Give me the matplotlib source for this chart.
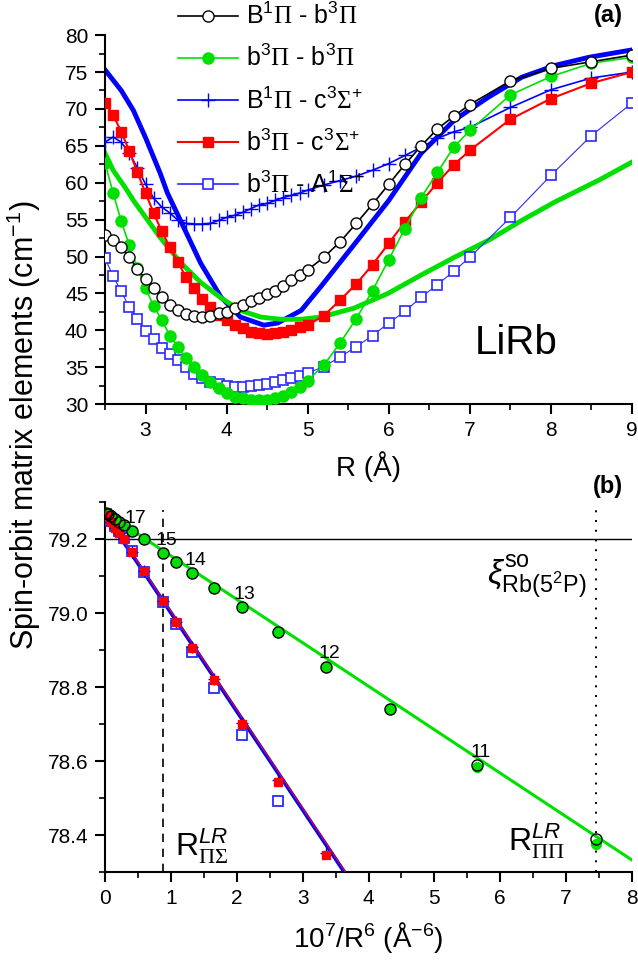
import matplotlib
matplotlib.use("Agg")
import matplotlib.pyplot as plt
from matplotlib.lines import Line2D
from matplotlib.ticker import MultipleLocator, FormatStrFormatter
import numpy as np

plt.rcParams['font.family'] = ['Liberation Sans', 'DejaVu Sans']
plt.rcParams['mathtext.fontset'] = 'custom'
plt.rcParams['mathtext.rm'] = 'Liberation Serif'
plt.rcParams['mathtext.sf'] = 'Liberation Sans'
plt.rcParams['mathtext.it'] = 'Liberation Sans:italic'

# ---- panel (a): spin-orbit matrix elements vs R ----
r_pts = [2.5, 2.6, 2.7, 2.8, 2.9, 3.0, 3.1, 3.2, 3.3, 3.4, 3.5, 3.6, 3.7, 3.8, 3.9,
         4.0, 4.1, 4.2, 4.3, 4.4, 4.5, 4.6, 4.7, 4.8, 4.9, 5.0,
         5.2, 5.4, 5.6, 5.8, 6.0, 6.2, 6.4, 6.6, 6.8, 7.0, 7.5, 8.0, 8.5, 9.0]
B1Pi_b3Pi = [52.9, 52.2, 51.3, 49.9, 48.3, 46.9, 45.7, 44.5, 43.4, 42.7, 42.2, 41.9, 41.8, 41.9, 42.3,
             42.5, 43.0, 43.4, 44.0, 44.4, 44.9, 45.4, 46.0, 46.8, 47.5, 48.2,
             49.9, 52.0, 54.5, 57.1, 59.8, 62.5, 65.0, 67.3, 69.0, 70.6, 73.8, 75.5, 76.4, 77.3]
b3Pi_b3Pi = [62.7, 58.6, 54.8, 51.5, 48.4, 45.7, 43.3, 41.4, 39.3, 37.7, 36.2, 35.0, 33.9, 33.0, 32.2,
             31.5, 31.0, 30.8, 30.5, 30.5, 30.5, 30.8, 31.1, 31.6, 32.3, 33.2,
             35.3, 38.3, 41.6, 45.4, 49.6, 53.8, 58.0, 61.4, 64.8, 67.1, 71.9, 74.4, 76.2, 77.0]
B1Pi_c3Sig = [65.5, 66.2, 65.5, 64.0, 62.0, 59.8, 57.9, 56.7, 55.9, 54.9, 54.5, 54.4, 54.4, 54.5, 54.9,
              55.3, 55.6, 56.0, 56.5, 57.0, 57.2, 57.6, 58.0, 58.3, 58.6, 59.0,
              59.7, 60.3, 60.9, 61.7, 62.6, 63.7, 64.8, 66.0, 66.9, 67.5, 70.2, 72.6, 74.2, 75.0]
b3Pi_c3Sig = [70.8, 69.2, 66.9, 64.3, 61.4, 58.6, 55.9, 53.4, 51.3, 49.2, 47.2, 45.7, 44.3, 43.1, 42.1,
              41.4, 40.7, 40.3, 39.8, 39.6, 39.5, 39.6, 39.8, 40.0, 40.4, 40.7,
              42.0, 44.1, 46.3, 48.9, 51.8, 54.7, 57.4, 60.0, 62.4, 64.4, 68.6, 71.4, 73.5, 75.0]
b3Pi_A1Sig = [49.8, 47.3, 45.3, 43.1, 41.6, 39.9, 38.8, 37.6, 36.8, 36.0, 35.1, 34.1, 33.5, 33.0, 32.7,
              32.4, 32.3, 32.3, 32.4, 32.6, 32.7, 33.0, 33.3, 33.5, 33.8, 34.2,
              35.1, 36.4, 37.8, 39.3, 41.0, 42.6, 44.5, 46.2, 48.0, 49.9, 55.3, 61.0, 66.4, 70.8]

# smooth (thick) curves
r_blue_thick = [2.5, 2.7, 2.85, 3.0, 3.18, 3.27, 3.43, 3.68, 3.93, 4.17, 4.46, 4.63, 4.92, 5.16,
                5.6, 6.0, 6.4, 6.81, 7.23, 7.64, 8.05, 8.47, 9.0]
v_blue_thick = [75.3, 72.5, 69.8, 66.1, 61.3, 58.6, 54.9, 49.1, 44.5, 41.8, 40.7, 41.0, 42.7, 45.9,
                52.0, 57.6, 64.0, 68.5, 71.6, 74.3, 75.9, 77.0, 78.0]
r_green_thick = [2.5, 2.6, 2.77, 2.85, 3.18, 3.43, 3.68, 3.93, 4.17, 4.42, 4.67, 4.92, 5.16,
                 5.57, 5.99, 6.4, 6.81, 7.23, 7.64, 8.05, 8.6, 9.0]
v_green_thick = [64.0, 61.7, 59.0, 57.6, 52.6, 49.2, 46.5, 44.4, 42.7, 41.8, 41.5, 41.5, 41.8,
                 43.0, 45.0, 47.5, 49.9, 52.2, 54.9, 57.4, 60.4, 62.8]

# ---- panel (b): long-range behaviour vs 10^7/R^6 ----
x_pp = [0.014, 0.041, 0.088, 0.156, 0.213, 0.294, 0.414, 0.596, 0.878, 1.076, 1.328, 1.652,
        2.072, 2.621, 3.349, 4.323, 5.645, 7.45]
pp_green = [79.271, 79.268, 79.263, 79.255, 79.248, 79.240, 79.222, 79.200, 79.162, 79.138,
            79.108, 79.067, 79.016, 78.948, 78.855, 78.741, 78.584, 78.375]
pp_black = [79.271, 79.268, 79.263, 79.255, 79.248, 79.240, 79.222, 79.200, 79.162, 79.138,
            79.108, 79.067, 79.016, 78.948, 78.855, 78.741, 78.589, 78.389]
x_ps = x_pp[:15]
ps_red = [79.267, 79.260, 79.247, 79.232, 79.218, 79.200, 79.165, 79.113, 79.032, 78.975,
          78.907, 78.820, 78.700, 78.543, 78.345]
ps_plus = [79.267, 79.260, 79.247, 79.232, 79.218, 79.200, 79.165, 79.113, 79.032, 78.975,
           78.909, 78.822, 78.703, 78.550, 78.352]
ps_open = [79.268, 79.262, 79.250, 79.236, 79.222, 79.203, 79.168, 79.111, 79.030, 78.972,
           78.896, 78.798, 78.671, 78.492]
R_labels = ['17', '15', '14', '13', '12', '11']
R_label_x = [0.414, 0.878, 1.328, 2.072, 3.349, 5.645]
R_label_y = [79.222, 79.162, 79.108, 79.016, 78.855, 78.589]
fit_pp = (79.273, -0.1176)
fit_ps_blue = (79.268, -0.2665)
fit_ps_red = (79.271, -0.2662)
x_R_PiSig = 0.878
x_R_PiPi = 7.45
xi_so = 79.2

GREEN = '#00e000'
BLUE = '#0000ff'
LBLUE = '#2a2aff'
RED = '#ff0000'

fig = plt.figure(figsize=(6.38, 9.6), dpi=100)
ax1 = fig.add_axes([0.1646, 0.579, 0.826, 0.3844])
ax2 = fig.add_axes([0.1646, 0.0917, 0.826, 0.385])

# panel (a)
ax1.plot(r_blue_thick, v_blue_thick, color=BLUE, lw=3.5, zorder=2)
ax1.plot(r_green_thick, v_green_thick, color=GREEN, lw=3.5, zorder=2)
ax1.plot(r_pts, b3Pi_A1Sig, color=LBLUE, lw=0.8, marker='s', ms=7, mfc='white',
         mec=LBLUE, mew=1.2, zorder=3)
ax1.plot(r_pts, B1Pi_c3Sig, color=BLUE, lw=1.2, marker='+', ms=10, mew=1.0, zorder=3)
ax1.plot(r_pts, b3Pi_c3Sig, color=RED, lw=1.5, marker='s', ms=7.5, mec=RED, zorder=4)
ax1.plot(r_pts, b3Pi_b3Pi, color=GREEN, lw=1.2, marker='o', ms=8, mec=GREEN, zorder=4)
ax1.plot(r_pts, B1Pi_b3Pi, color='k', lw=1.2, marker='o', ms=8, mfc='white', mec='k',
         mew=1.0, zorder=5)

ax1.set_xlim(2.5, 9)
ax1.set_ylim(30, 80)
ax1.xaxis.set_major_locator(MultipleLocator(1))
ax1.xaxis.set_minor_locator(MultipleLocator(0.5))
ax1.yaxis.set_major_locator(MultipleLocator(5))
ax1.yaxis.set_minor_locator(MultipleLocator(2.5))
ax1.set_xlabel('R (Å)', fontsize=20, labelpad=8)
ax1.text(0.78, 0.165, 'LiRb', transform=ax1.transAxes, fontsize=29, ha='center', va='center')
fig.text(0.953, 0.984, '(a)', fontsize=17, fontweight='bold', ha='center', va='center')

handles = [
    Line2D([], [], color='k', lw=1.2, marker='o', ms=8, mfc='white', mec='k'),
    Line2D([], [], color=GREEN, lw=1.2, marker='o', ms=8, mec=GREEN),
    Line2D([], [], color=BLUE, lw=1.2, marker='+', ms=10, mew=1.0),
    Line2D([], [], color=RED, lw=1.5, marker='s', ms=7.5, mec=RED),
    Line2D([], [], color=LBLUE, lw=1.2, marker='s', ms=7, mfc='white', mec=LBLUE, mew=1.2),
]
labels = [
    r'B$^{\mathsf{1}}\Pi$ - b$^{\mathsf{3}}\Pi$',
    r'b$^{\mathsf{3}}\Pi$ - b$^{\mathsf{3}}\Pi$',
    r'B$^{\mathsf{1}}\Pi$ - c$^{\mathsf{3}}\Sigma^{\mathsf{+}}$',
    r'b$^{\mathsf{3}}\Pi$ - c$^{\mathsf{3}}\Sigma^{\mathsf{+}}$',
    r'b$^{\mathsf{3}}\Pi$ - A$^{\mathsf{1}}\Sigma^{\mathsf{+}}$',
]
fig.legend(handles, labels, loc='upper left', bbox_to_anchor=(178 / 638, 0.997),
           frameon=False, fontsize=18, handlelength=2.4, handletextpad=0.3,
           labelspacing=0.63, borderpad=0, borderaxespad=0, numpoints=1)

# panel (b)
xf = np.array([0, 8])
ax2.axhline(xi_so, color='k', lw=1.0, zorder=1)
ax2.axvline(x_R_PiSig, ymax=0.98, color='k', lw=1.2, ls=(0, (5, 4)), zorder=1)
ax2.axvline(x_R_PiPi, ymax=0.98, color='k', lw=1.4, ls=(0, (1, 4)), zorder=1)
ax2.plot(xf, fit_pp[0] + fit_pp[1] * xf, color=GREEN, lw=2.2, zorder=2)
ax2.plot(xf, fit_ps_blue[0] + fit_ps_blue[1] * xf, color=BLUE, lw=2.8, zorder=2)
ax2.plot(xf, fit_ps_red[0] + fit_ps_red[1] * xf, color=RED, lw=0.8, zorder=3)
ax2.plot(x_pp[:14], ps_open, ls='none', marker='s', ms=7, mfc='none', mec=LBLUE, mew=1.3, zorder=4)
ax2.plot(x_ps, ps_plus, ls='none', marker='+', ms=8, mec=BLUE, mew=1.0, zorder=4)
ax2.plot(x_ps, ps_red, ls='none', marker='s', ms=5.5, mfc=RED, mec=RED, zorder=5)
ax2.plot(x_pp, pp_green, ls='none', marker='o', ms=7, mfc=GREEN, mec=GREEN, zorder=4)
ax2.plot(x_pp, pp_black, ls='none', marker='o', ms=8, mfc='none', mec='k', mew=1.0, zorder=5)
for lab, lx, ly in zip(R_labels, R_label_x, R_label_y):
    ax2.text(lx + 0.05, ly + 0.012, lab, fontsize=14, ha='center', va='bottom', zorder=6)

ax2.set_xlim(0, 8)
ax2.set_ylim(78.3, 79.3)
ax2.xaxis.set_major_locator(MultipleLocator(1))
ax2.xaxis.set_minor_locator(MultipleLocator(0.5))
ax2.yaxis.set_major_locator(MultipleLocator(0.2))
ax2.yaxis.set_minor_locator(MultipleLocator(0.1))
ax2.yaxis.set_major_formatter(FormatStrFormatter('%.1f'))
ax2.set_xlabel(r'10$^{\mathsf{7}}$/R$^{\mathsf{6}}$ (Å$^{\mathsf{-6}}$)', fontsize=20, labelpad=9)
ax2.text(1.06, 78.345, r'R$^{LR}_{\Pi\Sigma}$', fontsize=23, ha='left', va='baseline')
ax2.text(6.12, 78.359, r'R$^{LR}_{\Pi\Pi}$', fontsize=23, ha='left', va='baseline')
ax2.text(5.8, 79.1, r'$\xi^{\mathsf{so}}_{\mathsf{Rb(5^2P)}}$', fontsize=24, ha='left', va='center')
fig.text(0.953, 0.493, '(b)', fontsize=17, fontweight='bold', ha='center', va='center')

for ax in (ax1, ax2):
    ax.spines['top'].set_visible(False)
    ax.spines['right'].set_visible(False)
    for s in ('left', 'bottom'):
        ax.spines[s].set_linewidth(1.5)
    ax.tick_params(which='major', direction='out', length=7, width=1.5, labelsize=15, pad=5)
    ax.tick_params(which='minor', direction='out', length=4, width=1.2)

fig.text(0.037, 0.557, r'Spin-orbit matrix elements (cm$^{\mathsf{-1}}$)', rotation=90,
         fontsize=22, ha='center', va='center')

fig.savefig('out.png', dpi=100)
